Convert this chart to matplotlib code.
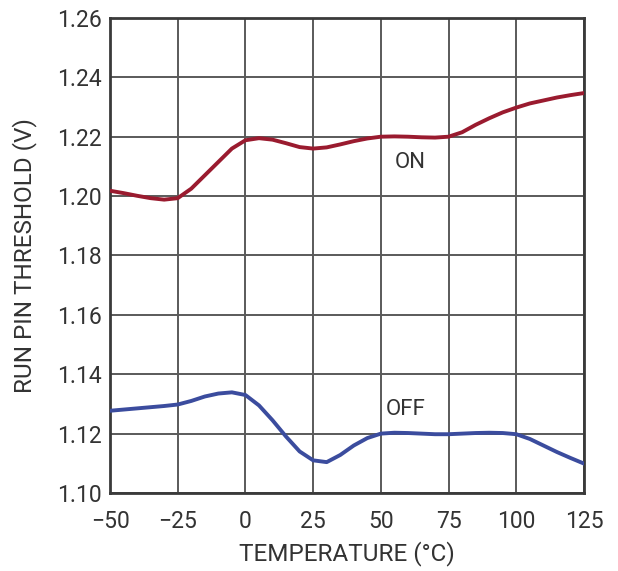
import matplotlib
matplotlib.use("Agg")
import matplotlib.pyplot as plt
from matplotlib import font_manager

# Temperature sweep (°C) and measured RUN pin thresholds (V)
temperature = [-50, -45, -40, -35, -30, -25, -20, -15, -10, -5, 0, 5, 10, 15, 20, 25,
               30, 35, 40, 45, 50, 55, 60, 65, 70, 75, 80, 85, 90, 95, 100, 105,
               110, 115, 120, 125]
threshold_on = [1.2018, 1.2010, 1.2001, 1.1993, 1.1988, 1.1993, 1.2025, 1.2070, 1.2115,
                1.2160, 1.2188, 1.2195, 1.2190, 1.2178, 1.2165, 1.2160, 1.2164, 1.2174,
                1.2185, 1.2194, 1.2200, 1.2201, 1.2200, 1.2198, 1.2197, 1.2200, 1.2215,
                1.2240, 1.2262, 1.2282, 1.2298, 1.2312, 1.2322, 1.2332, 1.2340, 1.2347]
threshold_off = [1.1277, 1.1281, 1.1285, 1.1289, 1.1293, 1.1298, 1.1310, 1.1325, 1.1335,
                 1.1339, 1.1330, 1.1295, 1.1245, 1.1190, 1.1140, 1.1110, 1.1104, 1.1128,
                 1.1160, 1.1185, 1.1200, 1.1203, 1.1202, 1.1200, 1.1198, 1.1198, 1.1200,
                 1.1202, 1.1203, 1.1202, 1.1198, 1.1182, 1.1160, 1.1138, 1.1118, 1.1099]

x_ticks = [-50, -25, 0, 25, 50, 75, 100, 125]
x_tick_labels = ["\u221250", "\u221225", "0", "25", "50", "75", "100", "125"]
y_ticks = [1.10, 1.12, 1.14, 1.16, 1.18, 1.20, 1.22, 1.24, 1.26]
y_tick_labels = ["1.10", "1.12", "1.14", "1.16", "1.18", "1.20", "1.22", "1.24", "1.26"]

available = {f.name for f in font_manager.fontManager.ttflist}
family = ["Liberation Sans Narrow", "DejaVu Sans"] if "Liberation Sans Narrow" in available \
    else ["Roboto", "DejaVu Sans"]
plt.rcParams["font.family"] = family

text_color = "#333333"

fig = plt.figure(figsize=(6.18, 5.71), dpi=100)
ax = fig.add_axes([0.178, 0.1366, 0.767, 0.832])

ax.plot(temperature, threshold_on, color="#9a1b2f", lw=2.8, zorder=3)
ax.plot(temperature, threshold_off, color="#3b4c9e", lw=2.8, zorder=3)

ax.set_xlim(-50, 125)
ax.set_ylim(1.10, 1.26)
ax.set_xticks(x_ticks)
ax.set_xticklabels(x_tick_labels)
ax.set_yticks(y_ticks)
ax.set_yticklabels(y_tick_labels)
ax.tick_params(length=0, labelsize=16.5, colors=text_color)
ax.tick_params(axis="x", pad=12)
ax.tick_params(axis="y", pad=6)

ax.grid(True, color="#5a5a5a", lw=1.4, zorder=1)
for s in ax.spines.values():
    s.set_color("#3a3a3a")
    s.set_linewidth(2)

ax.set_xlabel("TEMPERATURE (°C)", fontsize=17.5, color=text_color, labelpad=6)
ax.set_ylabel("RUN PIN THRESHOLD (V)", fontsize=17.5, color=text_color, labelpad=14)

ax.text(61, 1.2112, "ON", fontsize=16, color=text_color, ha="center", va="center")
ax.text(59, 1.1280, "OFF", fontsize=16, color=text_color, ha="center", va="center")

fig.savefig("out.png", dpi=100)
